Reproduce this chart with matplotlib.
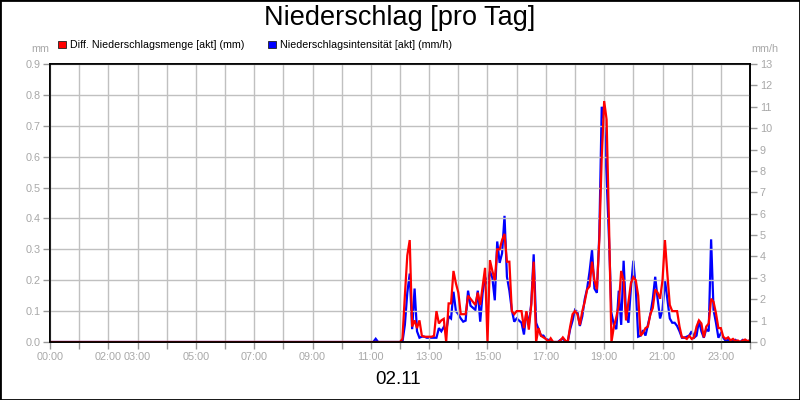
import numpy as np
import matplotlib
matplotlib.use("Agg")
import matplotlib.pyplot as plt
from matplotlib.patches import Rectangle

plt.rcParams['font.family'] = ['Liberation Sans', 'DejaVu Sans']

# quiet part of the day (before the rain starts), hh:mm
early_times = ["00:00", "11:05", "11:10", "11:15", "12:00"]
early_menge = [0.0, 0.0, 0.0, 0.0, 0.0]
early_intens = [0.0, 0.0, 0.15, 0.0, 0.0]

# 5-minute values from 12:05 to 24:00, one row per hour
menge_12 = [0.01, 0.15, 0.28, 0.33, 0.05, 0.07, 0.045, 0.07, 0.02, 0.017, 0.017]
menge_13 = [0.017, 0.017, 0.02, 0.1, 0.06, 0.07, 0.075, 0.0, 0.125, 0.125, 0.23, 0.19]
menge_14 = [0.16, 0.09, 0.09, 0.09, 0.15, 0.14, 0.13, 0.12, 0.16, 0.12, 0.18, 0.24]
menge_15 = [0.0, 0.265, 0.23, 0.2, 0.3, 0.3, 0.33, 0.35, 0.26, 0.26, 0.1, 0.09]
menge_16 = [0.1, 0.1, 0.1, 0.045, 0.1, 0.04, 0.12, 0.26, 0.0, 0.045, 0.02, 0.015]
menge_17 = [0.01, 0.0, 0.012, 0.0, 0.0, 0.0, 0.005, 0.015, 0.005, 0.0, 0.05, 0.09]
menge_18 = [0.1, 0.09, 0.055, 0.1, 0.13, 0.17, 0.18, 0.26, 0.2, 0.17, 0.33, 0.6]
menge_19 = [0.78, 0.72, 0.38, 0.0, 0.05, 0.08, 0.12, 0.23, 0.2, 0.07, 0.13, 0.19]
menge_20 = [0.21, 0.2, 0.15, 0.02, 0.03, 0.045, 0.05, 0.09, 0.11, 0.17, 0.16, 0.14]
menge_21 = [0.2, 0.33, 0.22, 0.12, 0.1, 0.1, 0.1, 0.05, 0.015, 0.015, 0.01, 0.02]
menge_22 = [0.01, 0.015, 0.05, 0.07, 0.06, 0.015, 0.05, 0.06, 0.14, 0.13, 0.093, 0.045]
menge_23 = [0.045, 0.017, 0.01, 0.015, 0.005, 0.01, 0.003, 0.005, 0.0, 0.005, 0.008, 0.003, 0.005]

intens_12 = [0.0, 0.8, 2.3, 3.2, 0.6, 2.5, 0.5, 0.2, 0.25, 0.25, 0.2]
intens_13 = [0.2, 0.2, 0.2, 0.2, 0.65, 0.5, 0.7, 0.5, 1.2, 1.1, 2.35, 1.45]
intens_14 = [1.3, 1.1, 0.95, 1.0, 2.4, 1.7, 1.6, 1.5, 2.4, 0.95, 2.3, 3.05]
intens_15 = [2.7, 3.3, 3.0, 1.95, 4.7, 3.7, 4.15, 5.9, 3.05, 2.4, 1.5, 0.95]
intens_16 = [1.1, 1.0, 0.9, 0.35, 1.4, 0.8, 1.8, 4.1, 0.9, 0.6, 0.3, 0.3]
intens_17 = [0.15, 0.1, 0.0, 0.0, 0.0, 0.0, 0.1, 0.15, 0.05, 0.0, 0.6, 1.0]
intens_18 = [1.5, 1.4, 0.75, 1.2, 2.0, 2.5, 3.3, 4.3, 2.5, 2.3, 5.0, 11.0]
intens_19 = [10.4, 7.7, 4.8, 1.35, 0.8, 0.6, 2.4, 0.8, 3.8, 1.3, 0.9, 2.5]
intens_20 = [3.8, 2.5, 0.25, 0.3, 0.55, 0.3, 0.8, 1.3, 2.0, 3.05, 2.0, 1.1]
intens_21 = [1.5, 2.9, 2.0, 1.1, 0.9, 0.9, 0.75, 0.5, 0.2, 0.2, 0.25, 0.3]
intens_22 = [0.5, 0.2, 0.3, 1.0, 0.5, 0.2, 0.6, 0.5, 4.8, 1.5, 0.9, 0.2]
intens_23 = [0.4, 0.2, 0.05, 0.1, 0.0, 0.05, 0.1, 0.0, 0.0, 0.1, 0.05, 0.0, 0.1]

tick_labels = ["00:00", "02:00", "03:00", "05:00", "07:00", "09:00", "11:00",
               "13:00", "15:00", "17:00", "19:00", "21:00", "23:00"]
day_label = "02.11"

GRID = "#c0c0c0"
TICKTXT = "#a8a8a8"


def to_hours(hhmm):
    h, m = hhmm.split(":")
    return int(h) + int(m) / 60.0


def build_series():
    menge = (menge_12 + menge_13 + menge_14 + menge_15 + menge_16 + menge_17 +
             menge_18 + menge_19 + menge_20 + menge_21 + menge_22 + menge_23)
    intens = (intens_12 + intens_13 + intens_14 + intens_15 + intens_16 + intens_17 +
              intens_18 + intens_19 + intens_20 + intens_21 + intens_22 + intens_23)
    rain_t = 12 + (np.arange(len(menge)) + 1) / 12.0
    t = np.concatenate([[to_hours(s) for s in early_times], rain_t])
    return t, np.array(early_menge + menge), np.array(early_intens + intens)


def main():
    t, menge, intens = build_series()

    fig = plt.figure(figsize=(8, 4), dpi=100)
    fig.patch.set_facecolor("white")
    ax = fig.add_axes([50 / 800, 58 / 400, 700 / 800, 278 / 400])
    ax_r = ax.twinx()
    # red series drawn above the blue one
    ax.set_zorder(ax_r.get_zorder() + 1)
    ax.patch.set_visible(False)

    ax_r.plot(t, intens, color="#0000ff", lw=1.6, solid_joinstyle="miter")
    ax.plot(t, menge, color="#ff0000", lw=1.6, solid_joinstyle="miter")

    ax.set_xlim(0, 24)
    ax.set_ylim(0, 0.9)
    ax_r.set_ylim(0, 13)
    ax.set_yticks(np.arange(0, 0.91, 0.1))
    ax.set_yticklabels(["%.1f" % v for v in np.arange(0, 0.91, 0.1)])
    ax_r.set_yticks(range(0, 14))

    ax.set_xticks(range(0, 25))
    label_hours = [to_hours(s) for s in tick_labels]
    ax.set_xticklabels([tick_labels[label_hours.index(h)] if h in label_hours else ""
                        for h in range(0, 25)])

    ax.grid(True, color=GRID, lw=1)
    for a in (ax, ax_r):
        for sp in a.spines.values():
            sp.set_color("black")
            sp.set_linewidth(1.2)
        a.tick_params(colors=TICKTXT, labelsize=7.8, length=5, width=1, pad=2)
        a.tick_params(axis="both", which="both", color="#999999")

    fig.text(0.5, 1 - 18 / 400, "Niederschlag [pro Tag]", ha="center", va="center", fontsize=19.5)
    fig.text(40 / 800, 1 - 49 / 400, "mm", ha="center", va="center", fontsize=7.8, color=TICKTXT)
    fig.text(765 / 800, 1 - 49 / 400, "mm/h", ha="center", va="center", fontsize=7.8, color=TICKTXT)
    fig.text(398 / 800, 1 - 379 / 400, day_label, ha="center", va="center", fontsize=13.5)

    legend = [("#ff0000", 58, "Diff. Niederschlagsmenge [akt] (mm)"),
              ("#0000ff", 268, "Niederschlagsintensität [akt] (mm/h)")]
    for color, x0, text in legend:
        fig.patches.append(Rectangle((x0 / 800, 1 - 48 / 400), 8 / 800, 7 / 400,
                                     transform=fig.transFigure, facecolor=color,
                                     edgecolor="#202020", lw=0.6))
        fig.text((x0 + 12) / 800, 1 - 44.5 / 400, text, ha="left", va="center", fontsize=7.7)

    fig.patches.append(Rectangle((0, 0), 1, 1, transform=fig.transFigure, fill=False,
                                 edgecolor="black", lw=2))

    plt.savefig("out.png", dpi=100)


if __name__ == "__main__":
    main()
